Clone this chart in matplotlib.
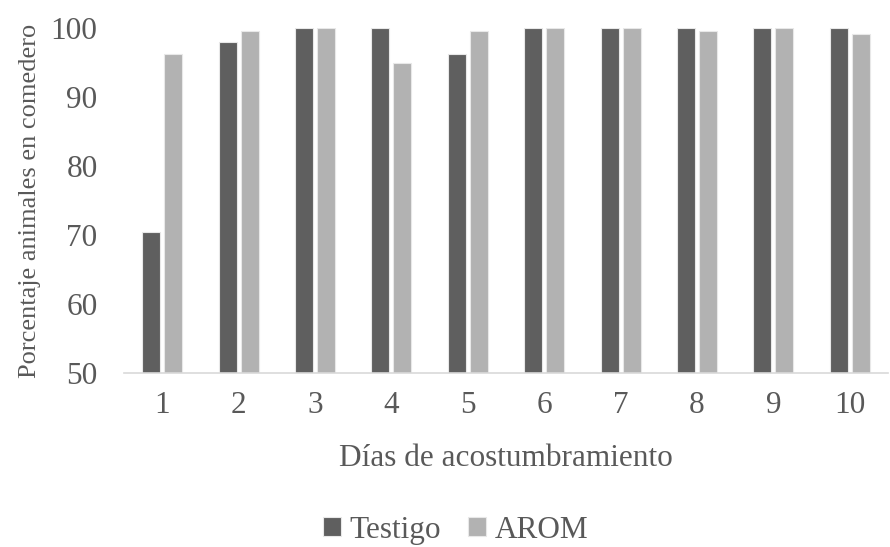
import numpy as np
import matplotlib.pyplot as plt

# Porcentaje de animales en comedero por día de acostumbramiento
dias = ["1", "2", "3", "4", "5", "6", "7", "8", "9", "10"]
testigo = [70.4, 97.9, 100, 100, 96.3, 100, 100, 100, 100, 100]
arom = [96.3, 99.6, 100, 95.0, 99.5, 100, 100, 99.6, 100, 99.1]

plt.rcParams['font.family'] = ['Liberation Serif', 'DejaVu Serif']
texto = '#595959'

fig = plt.figure(figsize=(8.9, 5.47), dpi=100)
ax = fig.add_axes([124 / 890, 1 - 373 / 547, 764 / 890, 345 / 547])

x = np.arange(len(dias))
ancho = 0.235
ax.bar(x - 0.144, testigo, ancho, bottom=0, color='#5f5f5f',
       edgecolor='#e8e8e8', linewidth=0.8, label='Testigo')
ax.bar(x + 0.144, arom, ancho, bottom=0, color='#b2b2b2',
       edgecolor='#e8e8e8', linewidth=0.8, label='AROM')

ax.set_ylim(50, 100)
ax.set_xlim(-0.5, len(dias) - 0.5)
ax.set_yticks(range(50, 101, 10))
ax.set_xticks(x)
ax.set_xticklabels(dias)

for lado in ['top', 'right', 'left']:
    ax.spines[lado].set_visible(False)
ax.spines['bottom'].set_color('#d9d9d9')
ax.spines['bottom'].set_linewidth(1.2)
ax.tick_params(axis='both', length=0, labelsize=22.5, colors=texto)
ax.tick_params(axis='y', pad=19)
ax.tick_params(axis='x', pad=13)

ax.set_xlabel("Días de acostumbramiento", fontsize=22.5, color=texto, labelpad=17)
ax.set_ylabel("Porcentaje animales en comedero", fontsize=19, color=texto, labelpad=7)

leg = fig.legend(loc='center', bbox_to_anchor=(0.512, 0.031), ncol=2, frameon=False,
                 fontsize=22.5, labelcolor=texto, handlelength=0.57, handleheight=0.57,
                 handletextpad=0.28, columnspacing=0.85, borderpad=0.2)

fig.savefig('out.png', dpi=100)
